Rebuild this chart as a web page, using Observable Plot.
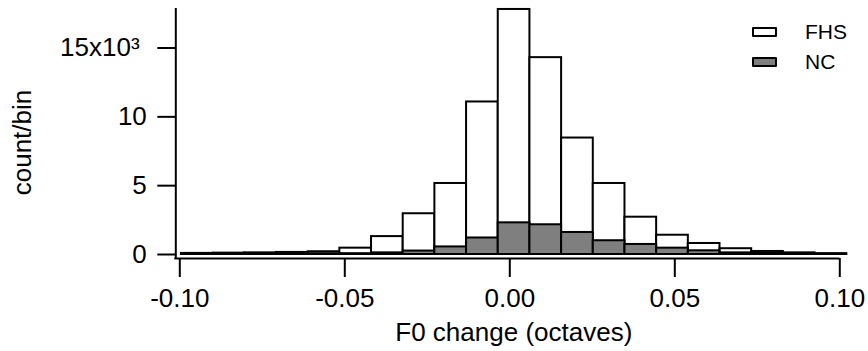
<!DOCTYPE html>
<html>
<head>
<meta charset="utf-8">
<script src="https://cdn.jsdelivr.net/npm/d3@7"></script>
<script src="https://cdn.jsdelivr.net/npm/@observablehq/plot@0.6"></script>
<style>
  body { margin: 0; background: #fff; }
  #wrap { position: relative; width: 868px; height: 351px; font-family: "Liberation Sans", Arial, sans-serif; }
  .legend { position: absolute; left: 752px; top: 17px; font-size: 21px; color: #000; }
  .item { display: flex; align-items: center; height: 30px; }
  .sw { width: 25px; height: 10px; border: 2px solid #000; box-sizing: border-box; margin-right: 28px; border-radius: 1px; }
</style>
</head>
<body>
<div id="wrap">
  <div id="chart"></div>
  <div class="legend">
    <div class="item"><span class="sw" style="background:#fff"></span><span>FHS</span></div>
    <div class="item"><span class="sw" style="background:#7f7f7f"></span><span>NC</span></div>
  </div>
</div>
<script>
// Histogram bin edges (octaves)
const binEdges = [-0.0995, -0.0899, -0.0803, -0.0707, -0.0611, -0.0515, -0.0419, -0.0323, -0.0227, -0.0131,
                  -0.0035, 0.0061, 0.0157, 0.0253, 0.0349, 0.0445, 0.0541, 0.0637, 0.0733, 0.0829, 0.0925, 0.1021];
// counts per bin, in thousands
const fhsCounts = [0.08, 0.10, 0.12, 0.15, 0.20, 0.46, 1.3, 2.96, 5.16, 11.08, 17.8, 14.3, 8.46, 5.16, 2.71, 1.4, 0.8, 0.42, 0.22, 0.12, 0.06];
const ncCounts  = [0.03, 0.03, 0.04, 0.05, 0.06, 0.06, 0.12, 0.25, 0.55, 1.2, 2.3, 2.16, 1.6, 1.0, 0.73, 0.46, 0.27, 0.12, 0.08, 0.05, 0.03];

const yTicks = [0, 5, 10, 15];
const yTickLabels = ["0", "5", "10", "15x10\u00B3\u00A0"];
const xTicks = [-0.10, -0.05, 0, 0.05, 0.10];
const xTickLabels = ["-0.10", "-0.05", "0.00", "0.05", "0.10"];
const xLabel = "F0 change (octaves)";
const yLabel = "count/bin";

const rows = fhsCounts.map((v, i) => ({x1: binEdges[i], x2: binEdges[i + 1], fhs: v, nc: ncCounts[i]}));

const chart = Plot.plot({
  width: 868,
  height: 351,
  marginTop: 8,
  marginBottom: 97,
  marginLeft: 179.3,
  marginRight: 28.7,
  x: {domain: [-0.1, 0.1]},
  y: {domain: [0, 17.87]},
  style: {fontFamily: "'Liberation Sans', Arial, sans-serif", fontSize: "26px", color: "#000", background: "transparent", overflow: "visible"},
  marks: [
    Plot.rectY(rows, {x1: "x1", x2: "x2", y: "fhs", fill: "#fff", stroke: "#000", strokeWidth: 2}),
    Plot.rectY(rows, {x1: "x1", x2: "x2", y: "nc", fill: "#7f7f7f", stroke: "#000", strokeWidth: 2}),
    Plot.ruleX([-0.1], {dx: -4, insetBottom: -5, stroke: "#000", strokeWidth: 2}),
    Plot.ruleY([0], {dy: 4, insetLeft: -5, stroke: "#000", strokeWidth: 2}),
    Plot.axisY(yTicks, {tickSize: 18, dx: -4, tickPadding: 11, strokeWidth: 2, fontSize: 26, tickFormat: d => yTickLabels[yTicks.indexOf(d)], label: null}),
    Plot.axisX(xTicks, {tickSize: 19, dy: 4, tickPadding: 11, strokeWidth: 2, fontSize: 26, tickFormat: d => xTickLabels[xTicks.indexOf(d)], label: null}),
    Plot.text([xLabel], {frameAnchor: "bottom", dx: 4, dy: 78, lineAnchor: "middle", fontSize: 26}),
    Plot.text([yLabel], {frameAnchor: "left", dx: -157, dy: 11, rotate: -90, textAnchor: "middle", lineAnchor: "middle", fontSize: 26})
  ]
});
document.getElementById("chart").appendChild(chart);
</script>
</body>
</html>
